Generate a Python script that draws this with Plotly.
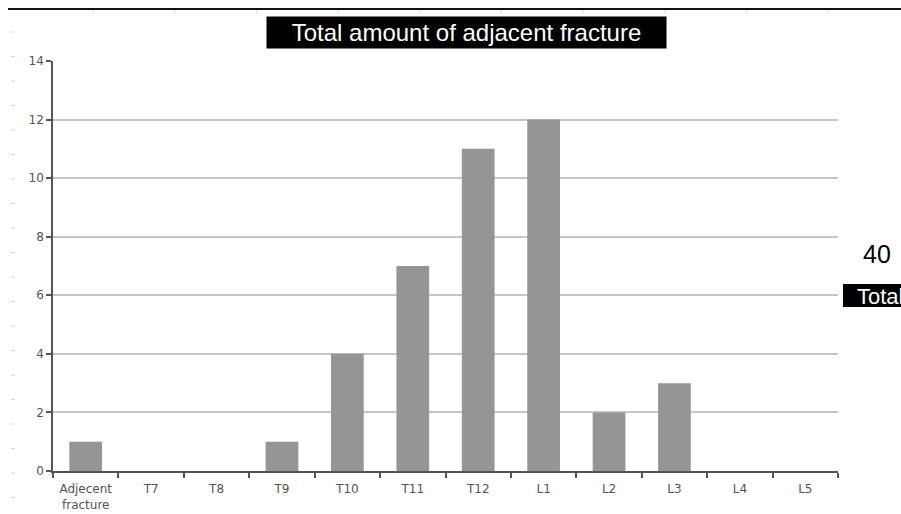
import plotly.graph_objects as go

categories = ["Adjecent<br>fracture", "T7", "T8", "T9", "T10", "T11", "T12", "L1", "L2", "L3", "L4", "L5"]
counts = [1, 0, 0, 1, 4, 7, 11, 12, 2, 3, 0, 0]
y_ticks = [0, 2, 4, 6, 8, 10, 12, 14]
title_text = "Total amount of adjacent fracture"
total_value = "40"
total_label = "Total"

W, H = 901, 514
L, R, T, B = 53, 838, 61, 471


def px(x):
    return (x - L) / (R - L)


def py(y):
    return (B - y) / (B - T)


fig = go.Figure(
    go.Bar(
        x=categories,
        y=counts,
        width=0.5,
        marker=dict(color="#959595", line=dict(width=0)),
    )
)

shapes = []
# top black rule of the page
shapes.append(dict(type="line", xref="paper", yref="paper", x0=px(8), x1=px(901),
                   y0=py(9), y1=py(9), line=dict(color="#111111", width=2)))
# faint ruler marks on the left edge
yy = 32
while yy < 510:
    shapes.append(dict(type="line", xref="paper", yref="paper", x0=px(11), x1=px(15),
                       y0=py(yy), y1=py(yy), line=dict(color="#d2d2d2", width=1)))
    yy += 24.5
# faint ruler marks at the top
xx = 93
while xx < 900:
    shapes.append(dict(type="line", xref="paper", yref="paper", x0=px(xx), x1=px(xx),
                       y0=py(10), y1=py(14), line=dict(color="#e0e0e0", width=1)))
    xx += 81.7
# black label box for "Total", running off the right edge
shapes.append(dict(type="rect", xref="paper", yref="paper", x0=px(843), x1=px(920),
                   y0=py(307), y1=py(284), fillcolor="#000000", line=dict(width=0),
                   layer="above"))

annotations = [
    dict(text=title_text, xref="paper", yref="paper", x=px(466.5), y=py(32.5),
         xanchor="center", yanchor="middle", showarrow=False, bgcolor="#000000",
         width=397, height=29,
         font=dict(family="Liberation Sans, Arial, sans-serif", size=24, color="#ffffff")),
    dict(text=total_value, xref="paper", yref="paper", x=px(877), y=py(254),
         xanchor="center", yanchor="middle", showarrow=False,
         font=dict(family="Liberation Sans, Arial, sans-serif", size=25, color="#000000")),
    dict(text=total_label, xref="paper", yref="paper", x=px(855), y=py(296),
         xanchor="left", yanchor="middle", showarrow=False,
         font=dict(family="Liberation Sans, Arial, sans-serif", size=22, color="#ffffff")),
]

fig.update_layout(
    width=W, height=H,
    margin=dict(l=L, r=W - R, t=T, b=H - B, autoexpand=False),
    paper_bgcolor="#ffffff", plot_bgcolor="#ffffff",
    showlegend=False,
    shapes=shapes,
    annotations=annotations,
    font=dict(family="DejaVu Sans, Verdana, sans-serif", size=12, color="#444444"),
)

fig.update_xaxes(
    type="category",
    showline=True, linecolor="#555555", linewidth=1.5,
    ticks="outside", tickson="boundaries", ticklen=5, tickcolor="#555555", tickwidth=1.5,
    showgrid=False,
    tickfont=dict(size=12, color="#555555"),
    ticklabelstandoff=6,
    automargin=False,
)
fig.update_yaxes(
    range=[0, 14], tickvals=y_ticks,
    showline=True, linecolor="#555555", linewidth=1.5,
    ticks="outside", ticklen=5, tickcolor="#555555", tickwidth=1.5,
    showgrid=True, gridcolor="#c6c6c6", gridwidth=1.5,
    zeroline=False,
    tickfont=dict(size=12, color="#555555"),
    automargin=False,
)

fig.write_html(
    "out.html",
    config={"displayModeBar": False},
    post_script="document.body.style.margin='0px';document.body.style.overflow='hidden';",
)
